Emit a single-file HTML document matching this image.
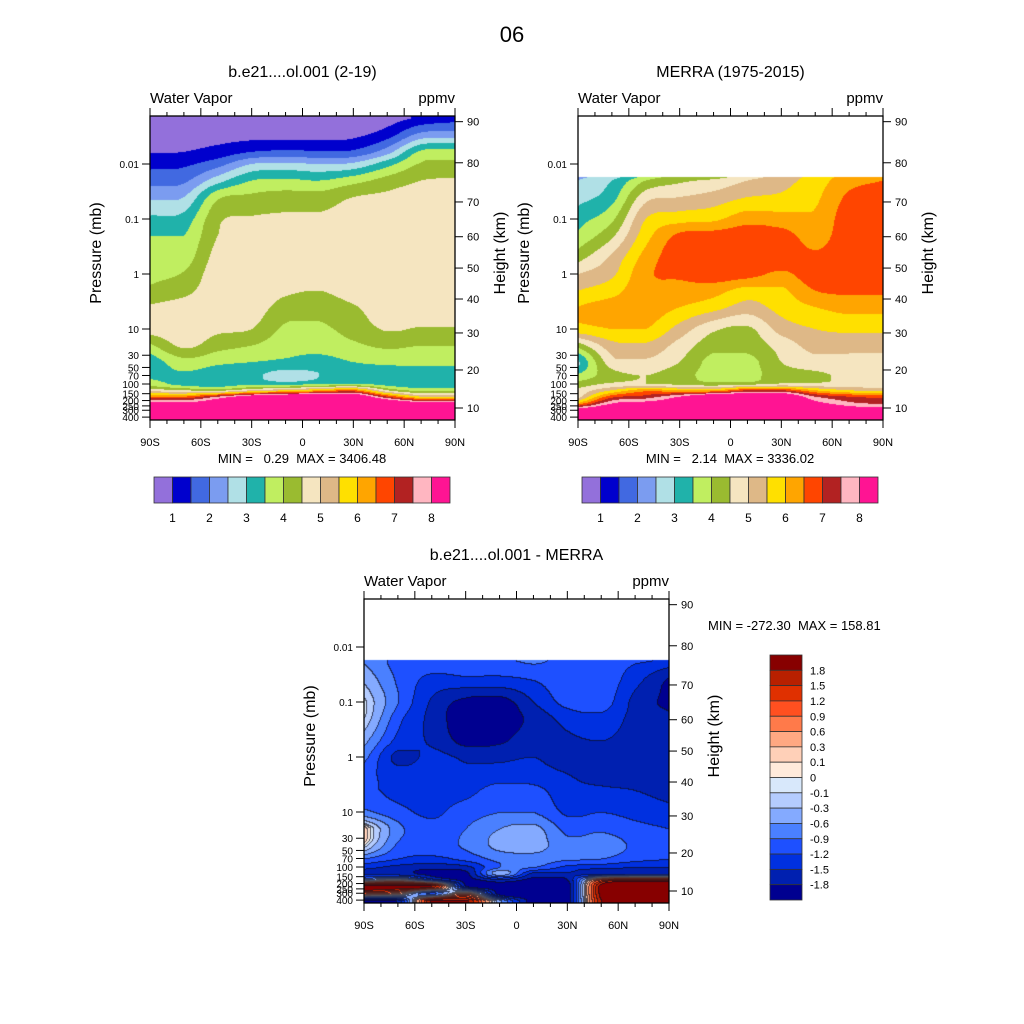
<!DOCTYPE html>
<html><head><meta charset="utf-8">
<style>
html,body{margin:0;padding:0;background:#fff;}
#wrap{position:relative;width:1024px;height:1024px;overflow:hidden;font-family:"Liberation Sans",sans-serif;}
canvas{position:absolute;}
svg{position:absolute;left:0;top:0;}
</style></head>
<body>
<div id="wrap">
<canvas id="c1"></canvas>
<canvas id="c2"></canvas>
<canvas id="c3"></canvas>
<svg id="ov" width="1024" height="1024"></svg>
</div>
<script>
// ---------------- data ----------------
const lats=[-90,-70,-50,-30,-10,10,30,50,70,90];
const p1Rows=[0.0015,0.003,0.006,0.01,0.02,0.04,0.1,0.2,0.5,1,2,4,10,20,40,70,100,130,170,220,300,400];
const p2Rows=[0.0174,0.02,0.04,0.1,0.2,0.5,1,2,4,10,20,40,70,100,130,170,220,300,400];
const wvLevels=[1,1.5,2,2.5,3,3.5,4,4.5,5,5.5,6,6.5,7,7.5,8];
const wvLabels=['1','2','3','4','5','6','7','8'];
const diffLevels=[-1.8,-1.5,-1.2,-0.9,-0.6,-0.3,-0.1,0,0.1,0.3,0.6,0.9,1.2,1.5,1.8];
const diffLabels=['-1.8','-1.5','-1.2','-0.9','-0.6','-0.3','-0.1','0','0.1','0.3','0.6','0.9','1.2','1.5','1.8'];
const heightTicks=[10,20,30,40,50,60,70,80,90];
const heightP=[273,55.6,11.8,2.85,0.78,0.21,0.049,0.0095,0.0017];
const pTicks=[0.01,0.1,1,10,30,50,70,100,150,200,250,300,400];
const pTickLabels=['0.01','0.1','1','10','30','50','70','100','150','200','250','300','400'];
const latTicks=[-90,-60,-30,0,30,60,90];
const latTickLabels=['90S','60S','30S','0','30N','60N','90N'];
// model water vapor (ppmv), one array per latitude column
const modelWV=[
[0.5,0.7,0.97,1.35,1.8,2.4,3.1,3.5,3.7,3.85,4.1,4.55,4.7,3.9,3.2,3.4,3.8,4.8,6.5,8.3,9,10],
[0.5,0.75,1.0,1.4,1.9,2.5,3.2,3.5,3.75,4.05,4.35,4.7,4.8,4.6,3.8,3.4,3.3,4.5,6.5,8.1,9,10],
[0.55,0.8,1.2,1.8,2.8,3.9,4.4,4.5,4.7,4.8,4.8,4.8,4.6,4.2,3.6,3.2,3.2,4.3,7.5,8.5,9,10],
[0.6,0.85,1.5,2.5,3.5,4.1,4.55,4.7,4.8,4.8,4.8,4.75,4.5,4.0,3.5,3.1,3.4,5,8.5,9,9.5,10],
[0.6,0.85,1.6,2.6,3.6,4.2,4.6,4.75,4.85,4.85,4.6,4.3,3.9,3.7,3.4,2.8,3.3,5.5,9,9.5,10,10],
[0.6,0.85,1.55,2.5,3.5,4.2,4.6,4.75,4.85,4.8,4.5,4.2,3.9,3.7,3.3,3.0,3.5,6,9,9.5,10,10],
[0.6,0.9,1.6,2.6,3.8,4.5,4.7,4.8,4.85,4.85,4.75,4.45,4.2,3.9,3.5,3.2,3.6,6.5,9,9.5,10,10],
[0.75,1.3,2.3,3.3,4.2,4.6,4.75,4.8,4.85,4.85,4.85,4.8,4.55,4.1,3.6,3.2,3.3,4.5,7,9,9.5,10],
[1.1,2.2,3.6,4.05,4.5,4.7,4.8,4.85,4.85,4.85,4.85,4.8,4.45,4.0,3.6,3.3,3.2,3.8,5.5,8.2,9,10],
[1.3,2.3,3.7,4.1,4.55,4.7,4.8,4.85,4.85,4.85,4.85,4.8,4.45,4.0,3.6,3.3,3.2,3.8,5.5,8.2,9,10]];
// MERRA water vapor (ppmv)
const merraWV=[
[2.4,2.5,2.8,3.3,3.6,4.3,5.0,5.5,6.0,5.8,4.2,2.9,3.6,4.2,4.6,4.8,6,8.5,9],
[2.8,3.0,3.3,3.9,4.4,5.1,5.4,5.8,6.2,6.0,5.3,4.8,4.3,4.6,5.5,6.8,7.9,9,9],
[3.7,4.0,4.8,5.5,5.8,6.2,6.4,6.4,6.3,6.0,5.4,4.9,4.5,4.5,6.3,7.2,8.2,9,9],
[4.2,4.4,5.0,5.8,6.6,6.8,6.6,6.3,6.0,5.3,4.8,4.5,4.2,4.4,6,8,8.5,9,9],
[4.3,4.6,5.2,5.9,6.7,6.9,6.8,6.2,5.7,4.6,4.2,3.8,3.8,4.2,6,9,9,9,9],
[4.8,5.0,5.5,6.3,6.8,6.9,6.7,5.8,5.3,4.4,4.2,3.8,3.8,4.3,7,9,9,9,9],
[5.2,5.3,5.6,6.2,6.7,6.8,6.4,5.9,5.7,5.2,4.7,4.5,4.3,4.6,7,9,9,9,9],
[5.7,5.75,5.9,6.1,6.3,6.6,6.8,6.5,6.0,5.5,5.2,4.8,4.4,4.6,6,7.5,8.2,9,9],
[6.2,6.3,6.6,6.8,6.8,6.8,6.8,6.6,6.2,5.6,5.2,4.8,4.6,4.7,5.5,7,7.6,8.5,9],
[6.4,6.5,6.8,6.9,6.9,6.9,6.85,6.6,6.2,5.6,5.2,4.8,4.6,4.7,5.3,6.8,7.3,8.5,9]];
// difference (model - MERRA), ppmv
const diffWV=[
[-0.6,-0.6,-0.35,-0.05,-0.1,-0.5,-0.8,-1.1,-1.1,-0.8,0.2,0.0,-0.9,-1.4,-1.6,-0.5,2.0,1.0,-2.0],
[-1.0,-1.0,-0.95,-0.9,-1.1,-1.3,-1.6,-1.35,-1.3,-1.1,-0.8,-0.95,-1.2,-1.6,-1.7,0.0,2.0,0.5,-1.7],
[-1.0,-1.05,-1.3,-1.55,-1.6,-1.55,-1.4,-1.3,-1.3,-1.25,-1.1,-1.0,-1.3,-1.7,-1.9,-1.2,1.8,-1.0,1.9],
[-0.9,-0.95,-1.3,-1.9,-2.0,-1.9,-1.55,-1.45,-1.3,-1.05,-0.9,-0.85,-1.1,-1.6,-1.9,-1.9,-1.8,0.5,1.9],
[-0.95,-1.0,-1.3,-1.95,-2.0,-1.85,-1.55,-1.4,-1.05,-0.9,-0.6,-0.5,-0.8,-0.9,-0.4,-1.6,-2.0,-2.0,-0.5],
[-0.85,-0.9,-1.2,-1.5,-1.7,-1.6,-1.5,-1.4,-1.1,-0.9,-0.5,-0.45,-0.75,-0.9,-1.6,-1.9,-2.0,-2.0,-2.0],
[-1.0,-1.0,-1.0,-1.1,-1.4,-1.55,-1.6,-1.5,-1.4,-1.25,-1.0,-0.8,-0.85,-1.3,-1.55,-1.8,-2.0,-2.0,-2.0],
[-1.0,-1.0,-1.0,-1.05,-1.3,-1.5,-1.6,-1.6,-1.45,-1.2,-0.95,-0.75,-0.9,-1.4,-1.7,1.0,2.0,2.0,1.8],
[-1.1,-1.2,-1.4,-1.6,-1.6,-1.6,-1.6,-1.6,-1.5,-1.3,-1.1,-0.95,-1.1,-1.5,-1.6,1.5,2.0,2.0,2.0],
[-1.3,-1.4,-1.85,-1.9,-1.7,-1.6,-1.6,-1.6,-1.6,-1.4,-1.2,-1.05,-1.2,-1.5,-1.6,1.5,2.0,2.0,2.0]];

const wvColors=['#9370db','#0000cd','#4169e1','#7b9cf0','#b0e0e6','#20b2aa','#c0ee60','#9abb30','#f5e5c0','#deb887','#ffe000','#ffa500','#ff4500','#b22222','#ffb6c1','#ff1493'];
const diffColors=['#000090','#0020b0','#0030e0','#1e50ff','#4a80ff','#84aaff','#b4ccff','#d8e8fb','#ffeadb','#ffd0b8','#ffa882','#ff7a4a','#ff5020','#e03000','#b82000','#870000'];

// ---------------- helpers ----------------
const NS='http://www.w3.org/2000/svg';
const ov=document.getElementById('ov');
function mk(tag,attrs,parent){const e=document.createElementNS(NS,tag);for(const k in attrs)e.setAttribute(k,attrs[k]);(parent||ov).appendChild(e);return e;}
function txt(s,x,y,size,anchor,name,extra){const t=mk('text',Object.assign({x:x,y:y,'font-size':size,'text-anchor':anchor||'middle',fill:'#000','font-family':'Liberation Sans, sans-serif',style:'white-space:pre'},extra||{}));t.textContent=s;return t;}
function hex(c){return [parseInt(c.slice(1,3),16),parseInt(c.slice(3,5),16),parseInt(c.slice(5,7),16)];}

function makeAxes(left,top,w,h){
  const yOf=p=>top+213-55*(1-Math.log10(p));
  const xOf=lat=>left+(lat+90)/180*w;
  return {left,top,w,h,yOf,xOf};
}
function bandOf(v,levels){let b=0;while(b<levels.length&&v>=levels[b])b++;return b;}
// clamped Catmull-Rom on non-uniform knots (monotone-ish)
function interp1(pos,vals,x){
  const n=pos.length;let i=0;while(i<n-2&&x>pos[i+1])i++;
  let t=(x-pos[i])/(pos[i+1]-pos[i]);t=Math.max(0,Math.min(1,t));
  const p0=vals[Math.max(0,i-1)],p1=vals[i],p2=vals[i+1],p3=vals[Math.min(n-1,i+2)];
  const h=pos[i+1]-pos[i];
  const m1=i>0?(p2-p0)/(pos[i+1]-pos[i-1])*h:(p2-p1);
  const m2=i<n-2?(p3-p1)/(pos[i+2]-pos[i])*h:(p2-p1);
  const t2=t*t,t3=t2*t;
  let v=(2*t3-3*t2+1)*p1+(t3-2*t2+t)*m1+(-2*t3+3*t2)*p2+(t3-t2)*m2;
  const lo=Math.min(p1,p2),hi=Math.max(p1,p2);
  return Math.max(lo,Math.min(hi,v));
}

function render(canvasId,ax,rows,grid,levels,colors,blankTop,lines){
  const cv=document.getElementById(canvasId);
  cv.width=ax.w;cv.height=ax.h;cv.style.left=ax.left+'px';cv.style.top=ax.top+'px';
  const ctx=cv.getContext('2d');const img=ctx.createImageData(ax.w,ax.h);
  const rgb=colors.map(hex);
  const rowY=rows.map(p=>ax.yOf(p)-ax.top);
  const colX=lats.map(l=>ax.xOf(l)-ax.left);
  const bands=new Int16Array(ax.w*ax.h).fill(-1);
  // interpolate each column vertically first
  const colVals=new Array(colX.length);
  for(let c=0;c<colX.length;c++){colVals[c]=new Float32Array(ax.h);
    for(let py=0;py<ax.h;py++)colVals[c][py]=interp1(rowY,grid[c],py+0.5);}
  const tmp=new Array(colX.length);
  for(let py=0;py<ax.h;py++){
    const y=py+0.5;
    if(blankTop&&y<rowY[0])continue;
    for(let c=0;c<colX.length;c++)tmp[c]=colVals[c][py];
    for(let px=0;px<ax.w;px++){
      const v=interp1(colX,tmp,px+0.5);
      bands[py*ax.w+px]=bandOf(v,levels);
    }
  }
  for(let i=0;i<bands.length;i++){
    const b=bands[i];const o=i*4;
    if(b<0){img.data[o]=255;img.data[o+1]=255;img.data[o+2]=255;img.data[o+3]=255;continue;}
    let col=rgb[b];
    if(lines){const px=i%ax.w;
      const l=px>0?bands[i-1]:b;const u=i>=ax.w?bands[i-ax.w]:b;
      if((l>=0&&l!==b)||(u>=0&&u!==b))col=[col[0]*0.3+10,col[1]*0.3+10,col[2]*0.3+20];}
    img.data[o]=col[0];img.data[o+1]=col[1];img.data[o+2]=col[2];img.data[o+3]=255;
  }
  ctx.putImageData(img,0,0);
}

function frame(ax,title,titleY,minmax,mmX,mmY,mmAnchor,prefix){
  const g=mk('g',{});
  const r=mk('rect',{x:ax.left,y:ax.top,width:ax.w,height:ax.h,fill:'none',stroke:'#000','stroke-width':1.3},g);
  
  const R=ax.left+ax.w,B=ax.top+ax.h;
  for(let lat=-90;lat<=90;lat+=10){
    const x=ax.xOf(lat);const major=lat%30===0;const L=major?8:4;
    mk('line',{x1:x,x2:x,y1:B,y2:B+L,stroke:'#000','stroke-width':1},g);
    mk('line',{x1:x,x2:x,y1:ax.top,y2:ax.top-L,stroke:'#000','stroke-width':1},g);
  }
  latTicks.forEach((lat,i)=>txt(latTickLabels[i],ax.xOf(lat),B+26,11,'middle',prefix+'-x-tick-label'));
  pTicks.forEach((p,i)=>{const y=ax.yOf(p);mk('line',{x1:ax.left-8,x2:ax.left,y1:y,y2:y,stroke:'#000','stroke-width':1},g);
    txt(pTickLabels[i],ax.left-11,y+4,10,'end',prefix+'-y-tick-label');});
  heightTicks.forEach((z,i)=>{const y=ax.yOf(heightP[i]);mk('line',{x1:R,x2:R+8,y1:y,y2:y,stroke:'#000','stroke-width':1},g);
    txt(String(z),R+12,y+4,11,'start',prefix+'-right-tick-label');});
  txt(title,ax.left+ax.w/2,titleY,16,'middle',prefix+'-title');
  txt('Water Vapor',ax.left,ax.top-13,15,'start',prefix+'-variable-label');
  txt('ppmv',R,ax.top-13,15,'end',prefix+'-units-label');
  const cy=ax.top+ax.h/2-15;
  txt('Pressure (mb)',ax.left-49,cy,16,'middle',prefix+'-y-axis-title',{transform:`rotate(-90 ${ax.left-49} ${cy})`});
  txt('Height (km)',R+50,cy,16,'middle',prefix+'-right-axis-title',{transform:`rotate(-90 ${R+50} ${cy})`});
  txt(minmax,mmX,mmY,13,mmAnchor,prefix+'-min-max-label');
}

function hColorbar(x,y,w,h,prefix){
  const n=wvColors.length,bw=w/n;
  wvColors.forEach((c,i)=>{const r=mk('rect',{x:x+i*bw,y:y,width:bw,height:h,fill:c,stroke:'#333','stroke-width':0.8});
    });
  wvLabels.forEach((s,i)=>txt(s,x+(2*i+1)*bw,y+h+19,12,'middle',prefix+'-colorbar-label'));
}

// ---------------- build ----------------
txt('06',512,42,22,'middle','figure-title');
const ax1=makeAxes(150,116,305,304);
const ax2=makeAxes(578,116,305,304);
const ax3=makeAxes(364,599,305,304);
render('c1',ax1,p1Rows,modelWV,wvLevels,wvColors,false,false);
render('c2',ax2,p2Rows,merraWV,wvLevels,wvColors,true,false);
render('c3',ax3,p2Rows,diffWV,diffLevels,diffColors,true,true);
frame(ax1,'b.e21....ol.001 (2-19)',77,'MIN =   0.29  MAX = 3406.48',302,463,'middle','model');
frame(ax2,'MERRA (1975-2015)',77,'MIN =   2.14  MAX = 3336.02',730,463,'middle','merra');
frame(ax3,'b.e21....ol.001 - MERRA',560,'MIN = -272.30  MAX = 158.81',708,630,'start','diff');
hColorbar(154,477,296,26,'model');
hColorbar(582,477,296,26,'merra');
// vertical colorbar
(function(){const x=770,y=655,w=32,h=245,n=diffColors.length,bh=h/n;
  for(let i=0;i<n;i++){const r=mk('rect',{x:x,y:y+i*bh,width:w,height:bh,fill:diffColors[n-1-i],stroke:'#333','stroke-width':0.8});
    }
  for(let j=0;j<diffLabels.length;j++){const yy=y+(j+1)*bh;txt(diffLabels[diffLabels.length-1-j],x+w+8,yy+4,11,'start','diff-colorbar-label');}
})();
</script>
</body></html>
